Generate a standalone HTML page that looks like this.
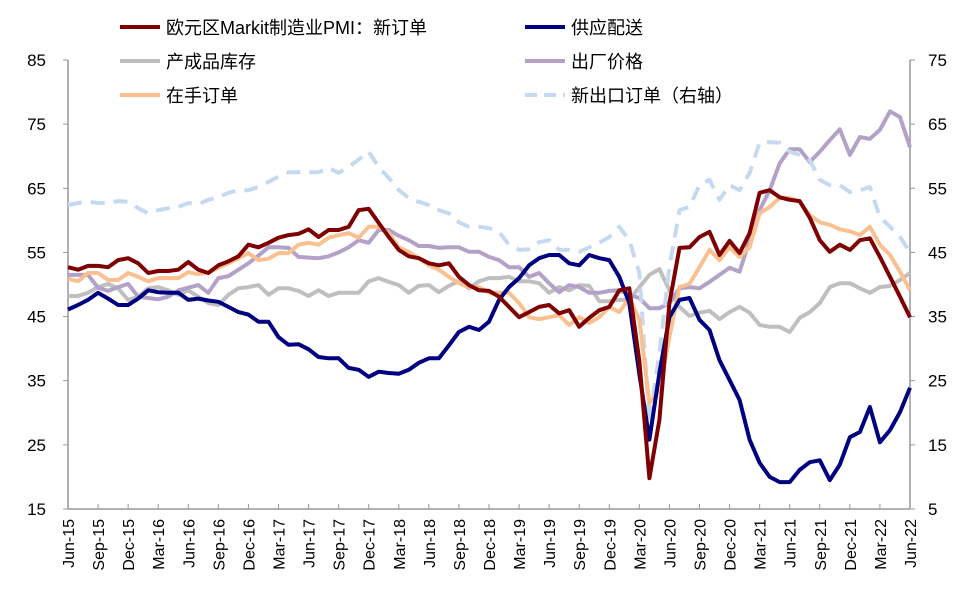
<!DOCTYPE html>
<html><head><meta charset="utf-8"><style>
body{margin:0;background:#fff;}
svg{display:block;font-family:"Liberation Sans","Noto Sans CJK SC",sans-serif;}
</style></head><body>
<svg id="chart" width="978" height="603" viewBox="0 0 978 603" xmlns="http://www.w3.org/2000/svg">
<g id="legend"></g>
<g id="axes"></g>
<g id="series"></g>
</svg>
<script>
const monthNames=["Jun","Sep","Dec","Mar"];
const xTickLabels=["Jun-15","Sep-15","Dec-15","Mar-16","Jun-16","Sep-16","Dec-16","Mar-17","Jun-17","Sep-17","Dec-17","Mar-18","Jun-18","Sep-18","Dec-18","Mar-19","Jun-19","Sep-19","Dec-19","Mar-20","Jun-20","Sep-20","Dec-20","Mar-21","Jun-21","Sep-21","Dec-21","Mar-22","Jun-22"];
const leftTicks=[15,25,35,45,55,65,75,85];
const rightTicks=[5,15,25,35,45,55,65,75];
const newOrders=[52.7,52.3,52.9,52.9,52.7,53.8,54.1,53.3,51.8,52.1,52.1,52.3,53.5,52.3,51.8,53.0,53.6,54.4,56.2,55.8,56.5,57.3,57.7,57.9,58.6,57.4,58.5,58.5,59.0,61.6,61.8,59.6,57.4,55.4,54.4,54.1,53.3,53.0,53.3,51.2,49.9,49.1,49.0,48.1,46.5,44.9,45.7,46.5,46.8,45.5,46.0,43.4,44.8,46.0,46.5,49.1,49.4,38.0,19.8,28.9,47.1,55.7,55.8,57.4,58.2,54.6,56.8,54.9,58.0,64.3,64.7,63.6,63.2,63.0,60.4,56.9,55.1,56.2,55.4,56.9,57.2,54.3,51.2,48.1,44.9];
const deliveries=[46.1,46.8,47.6,48.7,47.8,46.8,46.8,47.8,49.1,48.8,48.7,48.7,47.6,47.8,47.5,47.3,46.5,45.7,45.3,44.2,44.2,41.8,40.6,40.7,39.9,38.7,38.5,38.5,37.0,36.7,35.6,36.4,36.2,36.1,36.7,37.8,38.5,38.5,40.5,42.6,43.4,42.9,44.2,47.6,49.6,51.0,53.0,54.1,54.6,54.6,53.3,53.0,54.6,54.1,53.8,51.2,47.1,36.0,25.8,36.2,44.9,47.6,47.9,44.5,42.9,38.2,35.1,32.0,25.8,22.2,20.0,19.2,19.2,21.1,22.3,22.6,19.5,21.9,26.2,27.0,30.9,25.4,27.3,30.1,33.9];
const stocks=[48.2,48.2,48.7,49.6,50.1,49.4,47.6,48.1,49.4,49.6,49.1,48.4,49.1,48.1,47.1,46.8,48.4,49.4,49.6,49.9,48.4,49.4,49.4,49.0,48.2,49.1,48.2,48.7,48.7,48.7,50.5,51.0,50.4,49.9,48.7,49.8,49.9,48.8,49.8,50.5,49.4,50.5,51.0,51.0,51.2,50.5,50.5,50.2,48.7,49.6,49.1,49.9,49.8,47.4,47.4,47.6,47.6,49.6,51.5,52.4,49.1,46.5,45.1,45.6,45.9,44.6,45.7,46.5,45.6,43.7,43.4,43.4,42.6,44.8,45.7,47.1,49.6,50.2,50.2,49.4,48.7,49.6,49.8,50.7,51.8];
const outputPrices=[51.5,51.5,51.5,49.5,49.0,49.6,50.1,48.1,47.9,47.7,48.1,49.1,49.5,49.9,48.7,51.0,51.3,52.3,53.3,54.5,55.8,55.8,55.7,54.3,54.2,54.1,54.4,55.0,55.8,56.9,56.5,58.5,58.5,57.6,56.9,56.0,56.0,55.7,55.8,55.8,55.1,55.1,54.3,53.8,52.7,52.7,51.2,51.8,50.2,48.8,49.9,49.6,48.7,48.7,49.0,49.1,48.4,47.9,46.3,46.3,47.1,49.4,49.6,49.4,50.4,51.5,52.6,52.0,56.9,61.6,64.7,68.9,71.1,71.1,69.1,70.7,72.5,74.2,70.2,73.0,72.7,74.1,77.0,76.1,71.4];
const backlogs=[50.9,50.5,51.8,51.8,50.7,50.7,51.8,51.2,50.5,51.0,51.0,51.0,51.9,51.6,51.9,52.6,53.3,54.1,54.9,53.8,54.0,54.9,54.9,56.2,56.5,56.2,57.3,57.7,58.0,57.3,59.0,59.0,58.0,55.8,55.1,54.1,53.0,52.3,51.2,50.2,49.6,49.6,48.7,48.7,48.7,47.1,44.9,44.6,44.9,45.2,43.7,44.9,44.0,44.9,46.5,45.7,47.9,44.5,31.5,33.5,41.8,49.6,50.1,52.7,55.4,53.8,55.8,54.3,55.8,61.1,62.1,63.5,63.5,62.9,60.8,59.7,59.3,58.6,58.3,57.7,59.0,56.2,54.6,52.0,49.1];
const exportOrders=[52.4,52.7,52.9,52.7,52.7,53.0,52.9,51.9,51.1,51.6,51.9,52.1,52.7,52.5,53.2,53.6,54.3,54.7,54.7,55.2,56.0,56.8,57.5,57.5,57.5,57.5,58.2,57.4,58.3,59.5,60.7,58.3,56.6,54.7,53.5,52.9,52.4,51.6,51.1,49.7,49.0,49.0,48.8,48.2,46.2,45.4,45.5,46.6,46.9,45.4,45.4,45.1,45.8,46.5,47.4,49.0,46.9,41.8,18.4,29.3,42.7,51.6,52.1,55.5,56.3,53.2,55.5,54.7,57.4,62.1,62.2,62.1,60.7,60.2,59.4,56.3,55.5,55.5,54.4,54.7,55.2,50.5,49.0,47.4,45.1];

const NS="http://www.w3.org/2000/svg";
const X0=68,X1=910,Y0=60,Y1=509;
function xPos(i){return X0+(X1-X0)*i/84;}
function yLeft(v){return Y1-(v-15)/70*(Y1-Y0);}
function yRight(v){return Y1-(v-5)/70*(Y1-Y0);}
function mk(tag,attrs,parent){const e=document.createElementNS(NS,tag);for(const k in attrs)e.setAttribute(k,attrs[k]);parent.appendChild(e);return e;}
const axes=document.getElementById('axes');
const ser=document.getElementById('series');
const leg=document.getElementById('legend');

let a=mk('line',{x1:X0,y1:Y0,x2:X0,y2:Y1,stroke:'#999','stroke-width':1.5},axes);

a=mk('line',{x1:X1,y1:Y0,x2:X1,y2:Y1,stroke:'#999','stroke-width':1.5},axes);

a=mk('line',{x1:X0,y1:Y1,x2:X1,y2:Y1,stroke:'#999','stroke-width':1.5},axes);


leftTicks.forEach(v=>{
  const y=yLeft(v);
  const t=mk('line',{x1:X0-5,y1:y,x2:X0,y2:y,stroke:'#999','stroke-width':1},axes);
  
  
  const l=mk('text',{x:X0-22,y:y+6,'text-anchor':'end','font-size':17,fill:'#000'},axes);
  l.textContent=v;
  
  
});
rightTicks.forEach(v=>{
  const y=yRight(v);
  const t=mk('line',{x1:X1,y1:y,x2:X1+5,y2:y,stroke:'#999','stroke-width':1},axes);
  
  
  const l=mk('text',{x:X1+18,y:y+6,'text-anchor':'start','font-size':17,fill:'#000'},axes);
  l.textContent=v;
  
  
});
xTickLabels.forEach((lab,k)=>{
  const x=xPos(k*3);
  const t=mk('line',{x1:x,y1:Y1-5,x2:x,y2:Y1,stroke:'#999','stroke-width':1},axes);
  
  
  const l=mk('text',{x:0,y:0,'text-anchor':'end','font-size':16,fill:'#000',transform:`translate(${x+6},${Y1+10}) rotate(-90)`},axes);
  l.textContent=lab;
  
  
});

const seriesDefs=[
 {d:stocks,c:'#bfbfbf',r:false,n:'stocks-line',dash:null},
 {d:outputPrices,c:'#b3a2c7',r:false,n:'output-prices-line',dash:null},
 {d:exportOrders,c:'#c6d9f1',r:true,n:'export-orders-line',dash:'14,9'},
 {d:backlogs,c:'#fac090',r:false,n:'backlogs-line',dash:null},
 {d:deliveries,c:'#000080',r:false,n:'deliveries-line',dash:null},
 {d:newOrders,c:'#7f0000',r:false,n:'new-orders-line',dash:null}
];
seriesDefs.forEach(s=>{
  const pts=s.d.map((v,i)=>xPos(i).toFixed(1)+','+(s.r?yRight(v):yLeft(v)).toFixed(1)).join(' ');
  const attrs={points:pts,fill:'none',stroke:s.c,'stroke-width':4,'stroke-linejoin':'round'};
  if(s.dash)attrs['stroke-dasharray']=s.dash;
  const p=mk('polyline',attrs,ser);
  
  
});

const legendItems=[
 {t:'欧元区Markit制造业PMI：新订单',c:'#7f0000',x:120,y:27,dash:null},
 {t:'供应配送',c:'#000080',x:525,y:27,dash:null},
 {t:'产成品库存',c:'#bfbfbf',x:120,y:61,dash:null},
 {t:'出厂价格',c:'#b3a2c7',x:525,y:61,dash:null},
 {t:'在手订单',c:'#fac090',x:120,y:95,dash:null},
 {t:'新出口订单（右轴）',c:'#c6d9f1',x:525,y:95,dash:'12,7'}
];
legendItems.forEach(it=>{
  const g=mk('g',{},leg);
  
  
  const la={x1:it.x,y1:it.y,x2:it.x+40,y2:it.y,stroke:it.c,'stroke-width':4};
  if(it.dash)la['stroke-dasharray']=it.dash;
  const ln=mk('line',la,g);
  
  
  const tx=mk('text',{x:it.x+46,y:it.y+7,'font-size':18,fill:'#000'},g);
  tx.textContent=it.t;
  
  
});
</script>
</body></html>
